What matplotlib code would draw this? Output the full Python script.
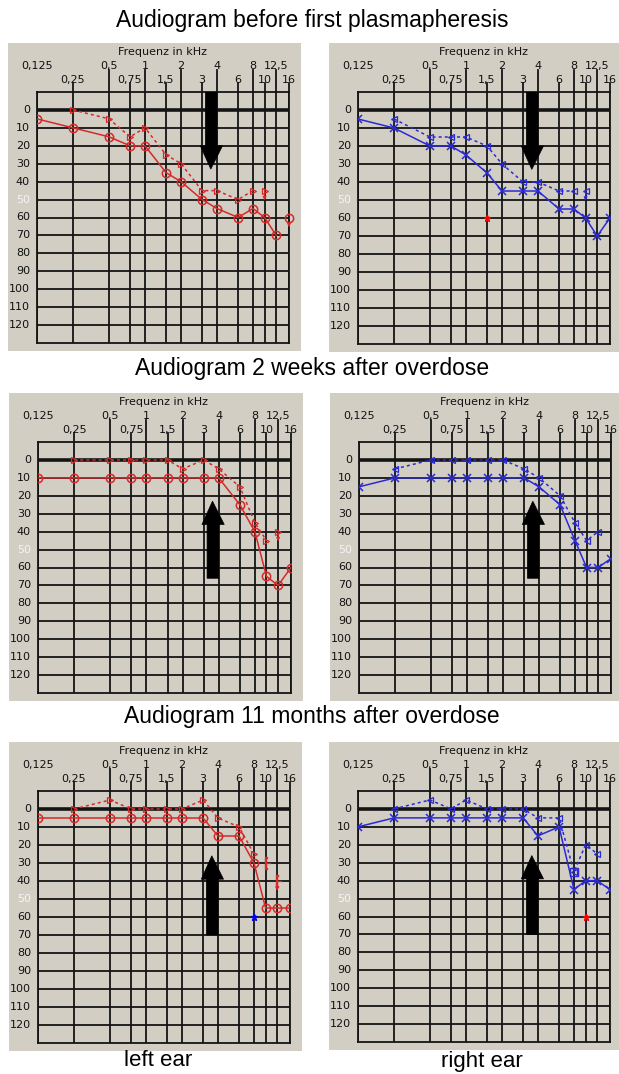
import numpy as np
import matplotlib
matplotlib.use('Agg')
import matplotlib.pyplot as plt
from matplotlib.patches import Polygon
from matplotlib.transforms import blended_transform_factory

plt.rcParams['font.family'] = ['Liberation Sans', 'DejaVu Sans']

W, H = 619, 1074

# frequencies (kHz) of the audiogram grid
freqs = [0.125, 0.25, 0.5, 0.75, 1, 1.5, 2, 3, 4, 6, 8, 10, 12.5, 16]
top_freqs = [0.125, 0.5, 1, 2, 4, 8, 12.5]
top_labels = ['0,125', '0,5', '1', '2', '4', '8', '12,5']
low_freqs = [0.25, 0.75, 1.5, 3, 6, 10, 16]
low_labels = ['0,25', '0,75', '1,5', '3', '6', '10', '16']
db_ticks = list(range(0, 130, 10))

titles = ['Audiogram before first plasmapheresis',
          'Audiogram 2 weeks after overdose',
          'Audiogram 11 months after overdose']
ear_labels = ['left ear', 'right ear']

bone_freqs_8 = [0.25, 0.5, 0.75, 1, 1.5, 2, 3, 4, 6, 8]
bone_freqs_10 = bone_freqs_8 + [10]
bone_freqs_125 = bone_freqs_10 + [12.5]

# --- before first plasmapheresis
tl_air_f = freqs[:13]
tl_air = [5, 10, 15, 20, 20, 35, 40, 50, 55, 60, 55, 60, 70]
tl_air_nr = [(16, 60)]
tl_bone_f = bone_freqs_8
tl_bone = [0, 5, 15, 10, 25, 30, 45, 45, 50, 45]
tl_bone_nr = [(10, 45)]

tr_air_f = freqs
tr_air = [5, 10, 20, 20, 25, 35, 45, 45, 45, 55, 55, 60, 70, 60]
tr_bone_f = bone_freqs_8
tr_bone = [5, 15, 15, 15, 20, 30, 40, 40, 45, 45]
tr_bone_nr = [(10, 45)]
tr_extra = [(1.5, 60, 'red')]

# --- 2 weeks after overdose
ml_air_f = freqs
ml_air = [10, 10, 10, 10, 10, 10, 10, 10, 10, 25, 40, 65, 70, 60]
ml_bone_f = bone_freqs_10
ml_bone = [0, 0, 0, 0, 0, 5, 0, 5, 15, 35, 45]
ml_bone_nr = [(12.5, 40)]

mr_air_f = freqs
mr_air = [15, 10, 10, 10, 10, 10, 10, 10, 15, 25, 45, 60, 60, 55]
mr_bone_f = bone_freqs_125
mr_bone = [5, 0, 0, 0, 0, 0, 5, 10, 20, 35, 45, 40]

# --- 11 months after overdose
bl_air_f = freqs
bl_air = [5, 5, 5, 5, 5, 5, 5, 5, 15, 15, 30, 55, 55, 55]
bl_bone_f = bone_freqs_8
bl_bone = [0, -5, 0, 0, 0, 0, -5, 5, 10, 25]
bl_mask = [(10, 30), (12.5, 40)]
bl_extra = [(8, 60, 'blue')]

br_air_f = freqs
br_air = [10, 5, 5, 5, 5, 5, 5, 5, 15, 10, 45, 40, 40, 45]
br_bone_f = bone_freqs_125
br_bone = [0, -5, 0, -5, 0, 0, 0, 5, 5, 35, 20, 25]
br_extra = [(10, 60, 'red')]

# arrows: (tip dB, head base dB, tail dB)
arrows = [(33, 20, -10), (23, 36, 66), (26, 39, 70)]

RED = '#d42a2a'
BLUE = '#2a2ad4'
GRID = '#141414'
PANEL = '#d2cec4'
SMALL = ['DejaVu Sans']

fig = plt.figure(figsize=(W / 100, H / 100), dpi=100)


def rect_px(x0, y0, x1, y1):
    return [x0 / W, 1 - y1 / H, (x1 - x0) / W, (y1 - y0) / H]


def panel(grid_px, side, air_f, air, bone_f, bone, arrow,
          air_nr=(), bone_nr=(), mask=(), extra=(), square=None):
    x0, y0, x1, y1 = grid_px
    # grey background box
    bg = fig.add_axes(rect_px(x0 - 29, y0 - 49, x1 + 12, y1 + 8))
    bg.set_facecolor(PANEL)
    for s in bg.spines.values():
        s.set_visible(False)
    bg.set_xticks([])
    bg.set_yticks([])

    ax = fig.add_axes(rect_px(x0, y0, x1, y1))
    ax.set_facecolor(PANEL)
    ax.set_xscale('log', base=2)
    ax.set_xlim(0.125, 16)
    ax.set_ylim(130, -10)
    ax.set_xticks([])
    ax.set_yticks([])
    ax.minorticks_off()
    for s in ax.spines.values():
        s.set_color(GRID)
        s.set_linewidth(1.3)

    tr = blended_transform_factory(ax.transData, ax.transAxes)
    ext = 1.0 / (y1 - y0)
    for f in freqs:
        ax.plot([f, f], [0, 1], transform=tr, color=GRID, lw=1.3, zorder=1)
    for f in top_freqs[1:]:
        ax.plot([f, f], [1, 1 + 22 * ext], transform=tr, color=GRID, lw=1.3,
                clip_on=False)
    for f in low_freqs:
        ax.plot([f, f], [1, 1 + 9 * ext], transform=tr, color=GRID, lw=1.3,
                clip_on=False)
    for d in range(0, 130, 10):
        ax.axhline(d, color=GRID, lw=2.6 if d == 0 else 1.3, zorder=1)

    for f, lab in zip(top_freqs, top_labels):
        ax.text(f, 1 + 26 * ext, lab, transform=tr, ha='center', va='center',
                fontsize=8, color='#111111', family=SMALL)
    for f, lab in zip(low_freqs, low_labels):
        ax.text(f, 1 + 12 * ext, lab, transform=tr, ha='center', va='center',
                fontsize=8, color='#111111', family=SMALL)
    ax.text(1.4, 1 + 40 * ext, 'Frequenz in kHz', transform=tr, ha='center',
            va='center', fontsize=8, color='#111111', family=SMALL)
    for d in db_ticks:
        ax.text(-7 / (x1 - x0), d, str(d),
                transform=blended_transform_factory(ax.transAxes, ax.transData),
                ha='right', va='center', fontsize=8, family=SMALL,
                color='#f4f4f4' if d == 50 else '#111111')

    if side == 'left':
        c, am, bm = RED, 'o', '>'
    else:
        c, am, bm = BLUE, 'x', '<'
    ams, amew = 6, 1.1

    ax.plot(air_f, air, color=c, lw=1.1, marker=am, ms=ams, mfc='none',
            mec=c, mew=amew, zorder=4)
    ax.plot(bone_f, bone, color=c, lw=1.1, ls=(0, (2, 2)), marker=bm, ms=4,
            mfc='none', mec=c, mew=0.9, zorder=4)
    for f, d in air_nr:
        ax.plot([f], [d], marker=am, ms=ams, mfc='none', mec=c, mew=amew,
                zorder=4, clip_on=False)
        ax.annotate('', xy=(f, d + 7), xytext=(f, d + 2),
                    arrowprops=dict(arrowstyle='-|>', color=c, lw=0.8,
                                    mutation_scale=5))
    for f, d in bone_nr:
        ax.plot([f], [d], marker=bm, ms=4, mfc='none', mec=c, mew=0.9,
                zorder=4)
        ax.annotate('', xy=(f, d + 7), xytext=(f, d - 2),
                    arrowprops=dict(arrowstyle='-|>', color=c, lw=0.8,
                                    mutation_scale=5))
    for i, (f, d) in enumerate(mask):
        ax.plot([f], [d], marker='$[$', ms=8, color=c, zorder=4)
        ax.plot([f, f * 1.08], [d, d], color=c, lw=0.9)
        if i == len(mask) - 1:
            ax.annotate('', xy=(f, d + 7), xytext=(f, d + 1),
                        arrowprops=dict(arrowstyle='-|>', color=c, lw=0.8,
                                        mutation_scale=5))
    for f, d, col in extra:
        ax.plot([f], [d], marker='*', ms=5, color=col, zorder=4)
    if square is not None:
        ax.plot([square[0]], [square[1]], marker='s', ms=6, mfc='none',
                mec=c, mew=1.0, zorder=5)

    # big black arrow between 3 and 4 kHz
    tip, base, tail = arrow
    sx0, sx1 = 3.2, 4.0
    hx0, hx1 = 2.9, 4.45
    xm = 3.55
    pts = [(sx0, tail), (sx0, base), (hx0, base), (xm, tip), (hx1, base),
           (sx1, base), (sx1, tail)]
    ax.add_patch(Polygon(pts, closed=True, facecolor='black',
                         edgecolor='black', lw=0.5, zorder=6))
    return ax


panel((37, 92, 289, 343), 'left', tl_air_f, tl_air, tl_bone_f, tl_bone,
      arrows[0], air_nr=tl_air_nr, bone_nr=tl_bone_nr)
panel((358, 92, 610, 344), 'right', tr_air_f, tr_air, tr_bone_f, tr_bone,
      arrows[0], bone_nr=tr_bone_nr, extra=tr_extra)
panel((38, 442, 291, 693), 'left', ml_air_f, ml_air, ml_bone_f, ml_bone,
      arrows[1], bone_nr=ml_bone_nr)
panel((359, 442, 611, 693), 'right', mr_air_f, mr_air, mr_bone_f, mr_bone,
      arrows[1])
panel((38, 791, 290, 1043), 'left', bl_air_f, bl_air, bl_bone_f, bl_bone,
      arrows[2], mask=bl_mask, extra=bl_extra)
panel((358, 791, 610, 1042), 'right', br_air_f, br_air, br_bone_f, br_bone,
      arrows[2], extra=br_extra, square=(8, 35))

for t, yc in zip(titles, [20, 368, 717]):
    fig.text(312 / W, 1 - yc / H, t, ha='center', va='center', fontsize=16.5)
for lab, xc in zip(ear_labels, [158, 482]):
    fig.text(xc / W, 1 - 1061 / H, lab, ha='center', va='center',
             fontsize=16)

fig.savefig('out.png', dpi=100, facecolor='white')
